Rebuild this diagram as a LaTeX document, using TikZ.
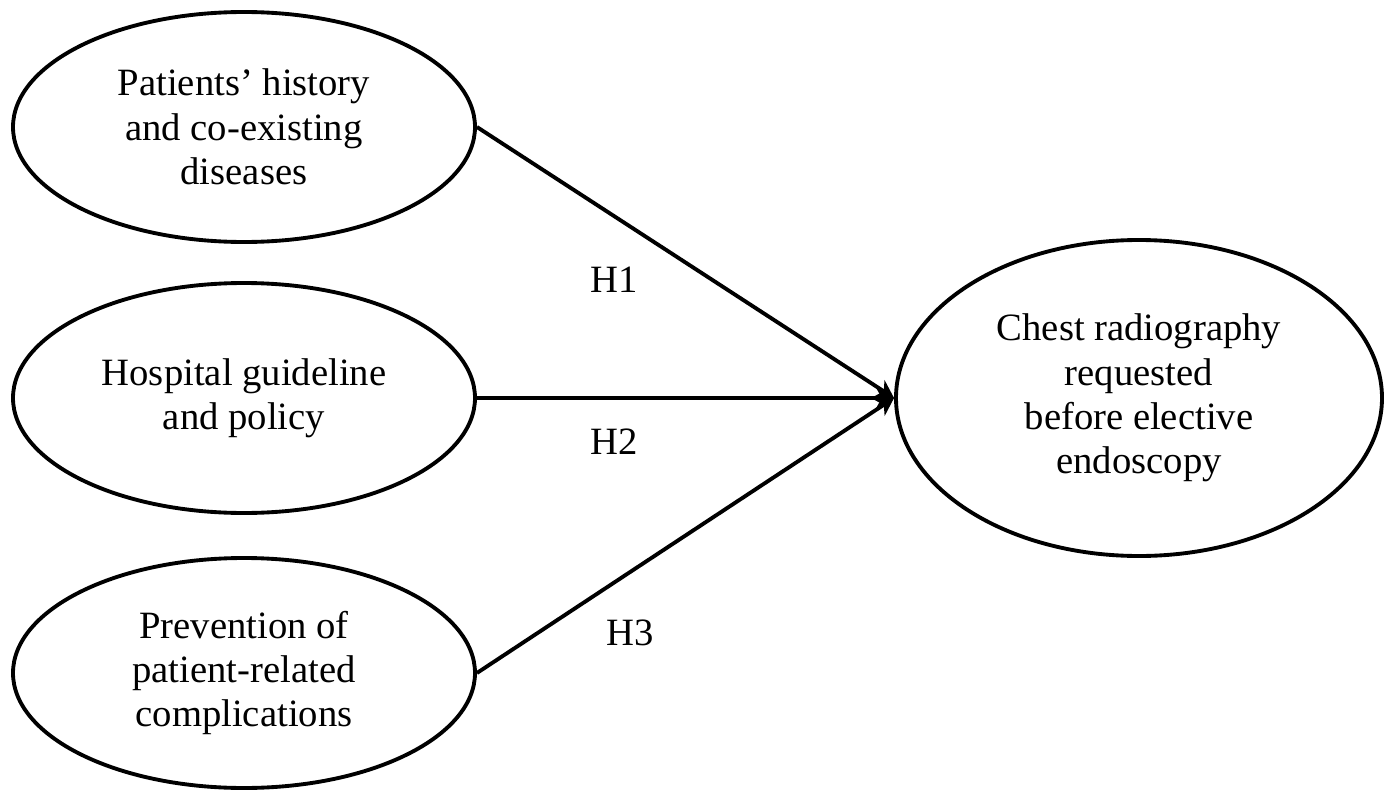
\documentclass[tikz,border=0pt]{standalone}
\usepackage{fontspec}
\setmainfont{Liberation Serif}
\usetikzlibrary{shapes.geometric,arrows.meta}
\begin{document}
\begin{tikzpicture}[>={Stealth[length=5pt,width=5.5pt,inset=1.5pt]}, line width=1.1pt, line join=round,
	font=\fontsize{11pt}{12.6pt}\selectfont,
	factor/.style={ellipse,draw,align=center,inner sep=0pt,minimum width=4.62cm,minimum height=2.3cm},
	outcome/.style={ellipse,draw,align=center,inner sep=0pt,minimum width=4.86cm,minimum height=3.16cm}]
	\useasboundingbox (0,0) rectangle (13.88,7.93);
	\node[factor] (hist) at (2.44,6.66) {Patients’ history\\and co-existing\\diseases};
	\node[factor] (policy) at (2.44,3.95) {Hospital guideline\\and policy};
	\node[factor] (prev) at (2.44,1.20) {Prevention of\\patient-related\\complications};
	\node[outcome] (cxr) at (11.39,3.95) {Chest radiography\\requested\\before elective\\endoscopy};
	\draw[->] (hist.east)--(cxr.west);
	\draw[->] (policy.east)--(cxr.west);
	\draw[->] (prev.east)--(cxr.west);
	\node (h1) at (6.14,5.13) {H1};
	\node (h2) at (6.14,3.51) {H2};
	\node (h3) at (6.30,1.60) {H3};
\end{tikzpicture}
\end{document}
